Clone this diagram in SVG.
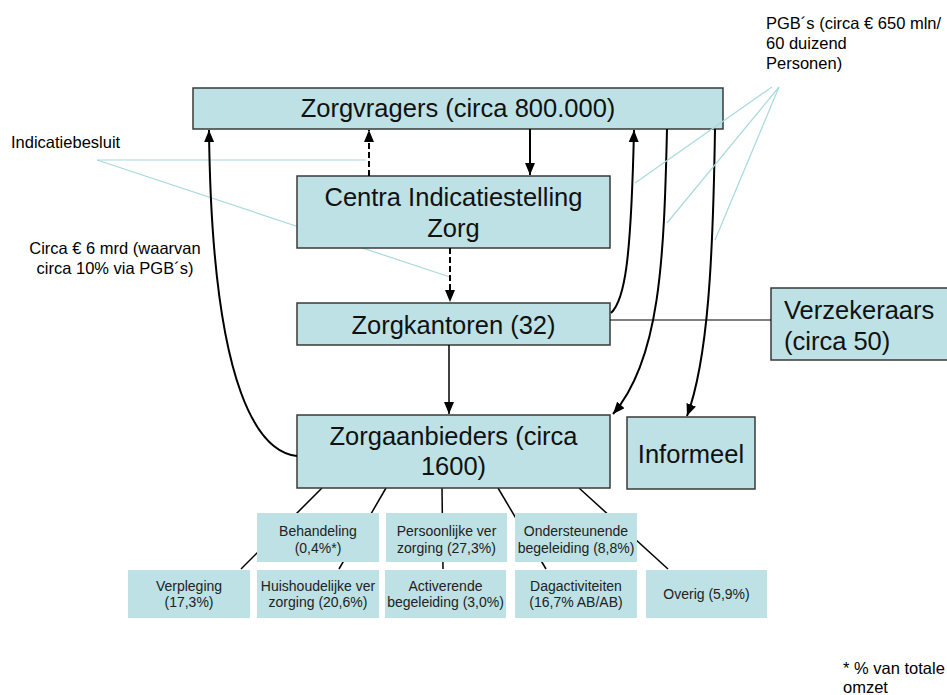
<svg xmlns="http://www.w3.org/2000/svg" width="947" height="695" viewBox="0 0 947 695">
<style>
  .box { fill: #BDE1E4; stroke: #3a3a3a; stroke-width: 1.5; }
  .sbox { fill: #BDE1E4; stroke: none; }
  .big { font-family: "Liberation Sans", Arial, sans-serif; font-size: 25.5px; fill: #111; }
  .small { font-family: "Liberation Sans", Arial, sans-serif; font-size: 14px; fill: #222; }
  .lbl { font-family: "Liberation Sans", Arial, sans-serif; font-size: 16.5px; fill: #000; }
  .call { stroke: #A9D9DD; stroke-width: 1.2; fill: none; }
  .conn { stroke: #000; stroke-width: 2; fill: none; }
  .thin { stroke: #000; stroke-width: 1.5; fill: none; }
  .dash { stroke-dasharray: 6 3; }
</style>
<defs>
  <marker id="arr" markerUnits="userSpaceOnUse" markerWidth="12" markerHeight="10" viewBox="0 0 12 10" refX="12" refY="5" orient="auto">
    <path d="M0,0 L12,5 L0,10 z" fill="#000"/>
  </marker>
</defs>
<rect width="947" height="695" fill="#fff"/>

<g id="callouts-under">
  <line class="call" x1="97" y1="160" x2="366" y2="160"/>
  <line class="call" x1="97" y1="160" x2="450" y2="277"/>
</g>

<g id="sub-connectors">
  <line class="thin" x1="322" y1="488" x2="241" y2="569"/>
  <line class="thin" x1="386" y1="488" x2="339" y2="569"/>
  <line class="thin" x1="442" y1="488" x2="443" y2="569"/>
  <line class="thin" x1="498" y1="488" x2="546" y2="569"/>
  <line class="thin" x1="579" y1="488" x2="668" y2="569"/>
</g>

<g id="zorgvragers">
  <rect class="box" x="193" y="88" width="530" height="41"/>
  <text class="big" x="458" y="117" text-anchor="middle">Zorgvragers (circa 800.000)</text>
</g>
<g id="ciz">
  <rect class="box" x="297" y="176" width="313" height="72"/>
  <text class="big" x="453.5" y="206" text-anchor="middle">Centra Indicatiestelling</text>
  <text class="big" x="453.5" y="237" text-anchor="middle">Zorg</text>
</g>
<g id="zorgkantoren">
  <rect class="box" x="297" y="303" width="313" height="42"/>
  <text class="big" x="453.5" y="334" text-anchor="middle">Zorgkantoren (32)</text>
</g>
<g id="verzekeraars">
  <rect class="box" x="771" y="288" width="190" height="72"/>
  <text class="big" x="784" y="319">Verzekeraars</text>
  <text class="big" x="784" y="350">(circa 50)</text>
</g>
<g id="zorgaanbieders">
  <rect class="box" x="297" y="415" width="313" height="73"/>
  <text class="big" x="453.5" y="445" text-anchor="middle">Zorgaanbieders (circa</text>
  <text class="big" x="453.5" y="475" text-anchor="middle">1600)</text>
</g>
<g id="informeel">
  <rect class="box" x="627" y="417" width="128" height="72"/>
  <text class="big" x="691" y="463" text-anchor="middle">Informeel</text>
</g>

<g id="behandeling">
  <rect class="sbox" x="257" y="513" width="122" height="49"/>
  <text class="small" x="318" y="536" text-anchor="middle">Behandeling</text>
  <text class="small" x="318" y="553" text-anchor="middle">(0,4%*)</text>
</g>
<g id="persoonlijke">
  <rect class="sbox" x="386" y="513" width="121" height="49"/>
  <text class="small" x="446.5" y="536" text-anchor="middle">Persoonlijke ver</text>
  <text class="small" x="446.5" y="553" text-anchor="middle">zorging (27,3%)</text>
</g>
<g id="ondersteunende">
  <rect class="sbox" x="515" y="513" width="122" height="49"/>
  <text class="small" x="576" y="536" text-anchor="middle">Ondersteunende</text>
  <text class="small" x="576" y="553" text-anchor="middle">begeleiding (8,8%)</text>
</g>
<g id="verpleging">
  <rect class="sbox" x="128" y="570" width="122" height="48"/>
  <text class="small" x="189" y="591" text-anchor="middle">Verpleging</text>
  <text class="small" x="189" y="607" text-anchor="middle">(17,3%)</text>
</g>
<g id="huishoudelijke">
  <rect class="sbox" x="257" y="570" width="122" height="48"/>
  <text class="small" x="318" y="591" text-anchor="middle">Huishoudelijke ver</text>
  <text class="small" x="318" y="607" text-anchor="middle">zorging (20,6%)</text>
</g>
<g id="activerende">
  <rect class="sbox" x="385" y="570" width="121" height="48"/>
  <text class="small" x="445.5" y="591" text-anchor="middle">Activerende</text>
  <text class="small" x="445.5" y="607" text-anchor="middle">begeleiding (3,0%)</text>
</g>
<g id="dagactiviteiten">
  <rect class="sbox" x="515" y="570" width="122" height="48"/>
  <text class="small" x="576" y="591" text-anchor="middle">Dagactiviteiten</text>
  <text class="small" x="576" y="607" text-anchor="middle">(16,7% AB/AB)</text>
</g>
<g id="overig">
  <rect class="sbox" x="646" y="570" width="121" height="48"/>
  <text class="small" x="706.5" y="599" text-anchor="middle">Overig (5,9%)</text>
</g>

<g id="connectors">
  <path class="conn" d="M297,456 C262,452 212,400 209,130" marker-end="url(#arr)"/>
  <line class="conn dash" x1="369" y1="176" x2="369" y2="130" marker-end="url(#arr)"/>
  <line class="conn" x1="530" y1="129" x2="530" y2="175" marker-end="url(#arr)"/>
  <line class="conn dash" x1="450" y1="248" x2="450" y2="302" marker-end="url(#arr)"/>
  <line class="thin" x1="449" y1="345" x2="449" y2="414" marker-end="url(#arr)"/>
  <path class="conn" d="M611,313 C625,300 631,260 634,130" marker-end="url(#arr)"/>
  <path class="conn" d="M667,129 C664,260 660,360 613,414" marker-end="url(#arr)"/>
  <path class="conn" d="M715,129 C713,260 708,360 687,416" marker-end="url(#arr)"/>
  <line stroke="#000" stroke-width="1.2" x1="610" y1="320" x2="771" y2="320"/>
</g>

<g id="callouts-over">
  <line class="call" x1="772" y1="87" x2="635" y2="183"/>
  <line class="call" x1="779" y1="87" x2="667" y2="223"/>
  <line class="call" x1="779" y1="87" x2="715" y2="240"/>
</g>

<g id="labels">
  <text class="lbl" x="766" y="29">PGB´s (circa € 650 mln/</text>
  <text class="lbl" x="766" y="49">60 duizend</text>
  <text class="lbl" x="766" y="69">Personen)</text>
  <text class="lbl" x="11" y="148">Indicatiebesluit</text>
  <text class="lbl" x="115" y="254" text-anchor="middle">Circa € 6 mrd (waarvan</text>
  <text class="lbl" x="115" y="274" text-anchor="middle">circa 10% via PGB´s)</text>
  <text class="lbl" x="843" y="674">* % van totale</text>
  <text class="lbl" x="843" y="693">omzet</text>
</g>
</svg>
